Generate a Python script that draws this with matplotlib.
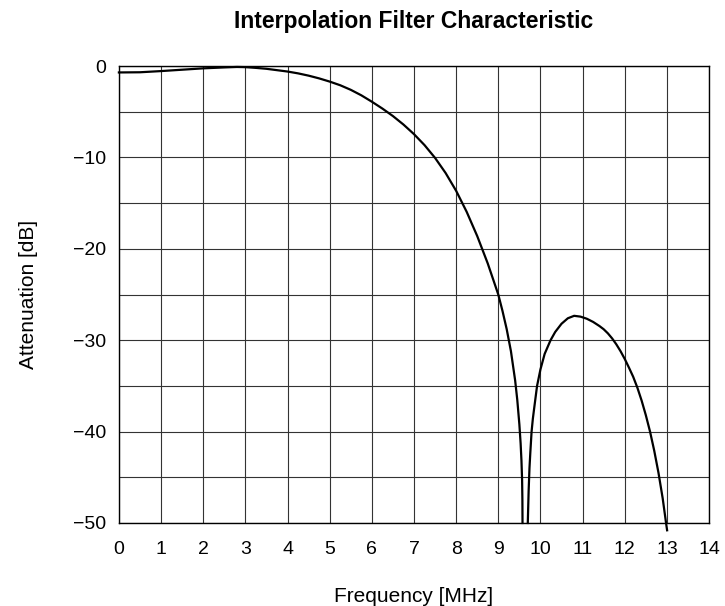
import matplotlib
matplotlib.use('Agg')
import matplotlib.pyplot as plt

plt.rcParams['font.family'] = ['Liberation Sans', 'DejaVu Sans']

# Passband / main lobe
freq_main = [0.0, 0.5, 1.0, 1.5, 2.0, 2.5, 2.8, 3.0, 3.25, 3.5, 3.75, 4.0, 4.25, 4.5,
             4.75, 5.0, 5.25, 5.5, 5.75, 6.0, 6.25, 6.5, 6.75, 7.0, 7.25, 7.5, 7.75,
             8.0, 8.25, 8.5, 8.75, 9.0, 9.1, 9.2, 9.3, 9.4, 9.45, 9.5, 9.53, 9.55,
             9.565, 9.572, 9.575]
att_main = [-0.7, -0.68, -0.55, -0.4, -0.25, -0.15, -0.1, -0.12, -0.2, -0.3, -0.45, -0.6, -0.8, -1.05,
            -1.35, -1.7, -2.1, -2.6, -3.2, -3.9, -4.65, -5.47, -6.4, -7.45, -8.65, -10.05, -11.7,
            -13.65, -15.95, -18.6, -21.6, -25.0, -26.8, -28.8, -31.2, -34.4, -36.5, -39.2, -41.3, -43.2,
            -45.3, -47.5, -50.0]

# Stopband side lobe
freq_side = [9.70, 9.72, 9.74, 9.76, 9.79, 9.82, 9.85, 9.92, 10.0, 10.1, 10.24, 10.35, 10.5,
             10.65, 10.8, 10.95, 11.1, 11.25, 11.4, 11.5, 11.6, 11.7, 11.8, 11.9, 12.0,
             12.1, 12.2, 12.3, 12.4, 12.5, 12.6, 12.7, 12.8, 12.9, 12.98, 13.005]
att_side = [-50.0, -46.5, -44.0, -42.3, -40.0, -38.6, -37.5, -35.0, -33.2, -31.5, -30.0, -29.1, -28.2,
            -27.6, -27.33, -27.42, -27.65, -28.0, -28.45, -28.8, -29.25, -29.8, -30.45, -31.2, -32.05,
            -33.0, -34.0, -35.2, -36.6, -38.2, -40.0, -42.1, -44.5, -47.3, -50.0, -50.8]

x_ticks = list(range(0, 15))
y_ticks = [0, -10, -20, -30, -40, -50]
y_grid = [-5, -15, -25, -35, -45]

fig = plt.figure(figsize=(7.25, 6.06), dpi=100)
ax = fig.add_axes([0.164, 0.137, 0.814, 0.754])

ax.set_xlim(0, 14)
ax.set_ylim(-50, 0)
ax.set_xticks(x_ticks)
ax.set_yticks(y_ticks)
ax.set_yticks(y_grid, minor=True)
ax.set_yticklabels(['0', '\u221210', '\u221220', '\u221230', '\u221240', '\u221250'])
ax.grid(True, which='both', color='#333333', linewidth=0.8)
ax.tick_params(which='both', length=0)
ax.tick_params(axis='x', pad=13, labelsize=14)
ax.tick_params(axis='y', pad=9, labelsize=14)
for s in ax.spines.values():
    s.set_linewidth(1.0)
    s.set_color('black')

ax.plot(freq_main, att_main, color='black', linewidth=1.6, clip_on=False, zorder=3)
ax.plot(freq_side, att_side, color='black', linewidth=1.6, clip_on=False, zorder=3)

ax.set_xlabel('Frequency [MHz]', fontsize=15, labelpad=21)
ax.set_ylabel('Attenuation [dB]', fontsize=15, labelpad=25)
fig.suptitle('Interpolation Filter Characteristic', fontsize=16.5, fontweight='bold',
             x=0.571, y=0.965, va='center')

plt.savefig('out.png', dpi=100)
